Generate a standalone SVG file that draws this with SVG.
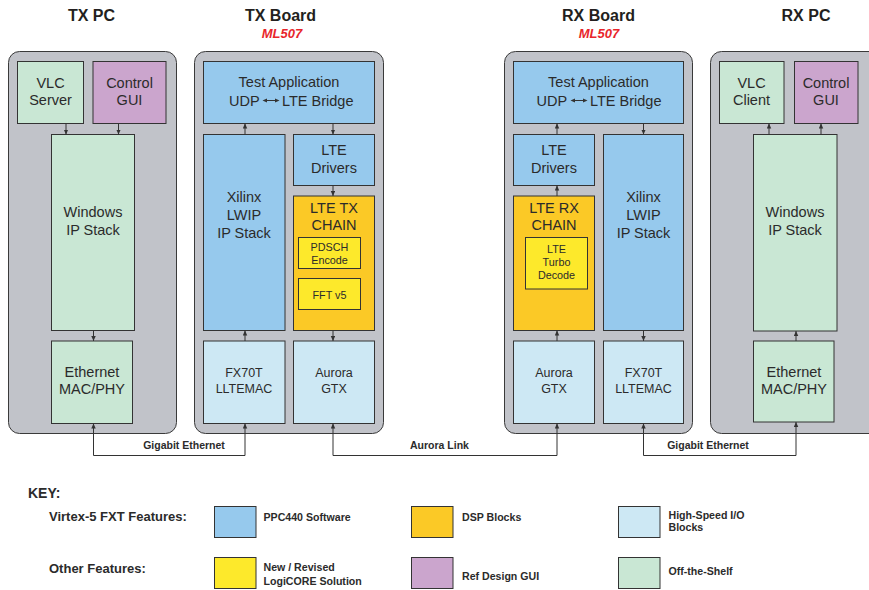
<svg xmlns="http://www.w3.org/2000/svg" width="869" height="590" viewBox="0 0 869 590">
<defs>
<style>
.bg{fill:#ffffff}
.panel{fill:#c1c3c9;stroke:#3a3a3a;stroke-width:1}
.box{stroke:#333333;stroke-width:1}
.blue{fill:#96c9ed}
.orange{fill:#fbc926}
.yellow{fill:#fde92b}
.lblue{fill:#cde8f4}
.green{fill:#c9e7d4}
.purple{fill:#cba5cd}
.t{font-family:"Liberation Sans",Arial,sans-serif;fill:#2b2b2b;text-anchor:middle;font-size:14.5px}
.ts{font-size:12.5px}
.tx{font-size:10.8px}
.title{font-family:"Liberation Sans",Arial,sans-serif;font-weight:bold;font-size:16px;fill:#231f20;text-anchor:middle}
.ml{font-family:"Liberation Sans",Arial,sans-serif;font-weight:bold;font-style:italic;font-size:13px;fill:#e8262b;text-anchor:middle}
.lab{font-family:"Liberation Sans",Arial,sans-serif;font-weight:bold;font-size:10.5px;fill:#2b2b2b;text-anchor:middle}
.key{font-family:"Liberation Sans",Arial,sans-serif;font-weight:bold;fill:#2b2b2b}
.conn{fill:none;stroke:#333333;stroke-width:1}
</style>
<marker id="ah" markerUnits="userSpaceOnUse" markerWidth="6" markerHeight="5" refX="5" refY="2.25" orient="auto-start-reverse">
<path d="M0,0 L5,2.25 L0,4.5 z" fill="#333333"/>
</marker>
</defs>
<rect class="bg" x="0" y="0" width="869" height="590"/>

<!-- Titles -->
<g id="titles">
<text class="title" x="91.5" y="21">TX PC</text>
<text class="title" x="280.5" y="21">TX Board</text>
<text class="ml" x="282" y="38">ML507</text>
<text class="title" x="598.5" y="21">RX Board</text>
<text class="ml" x="599" y="38">ML507</text>
<text class="title" x="806" y="21">RX PC</text>
</g>

<!-- Panels -->
<g id="tx_pc">
<rect class="panel" x="8.5" y="51.5" width="168" height="382" rx="11"/>
</g>
<g id="tx_board">
<rect class="panel" x="194.5" y="51.5" width="189" height="382" rx="11"/>
</g>
<g id="rx_board">
<rect class="panel" x="504.5" y="51.5" width="188" height="382" rx="11"/>
</g>
<g id="rx_pc">
<rect class="panel" x="710.5" y="51.5" width="185" height="382" rx="11"/>
</g>

<!-- TX PC nodes -->
<g id="tx_vlc_server">
<rect class="box green" x="17.5" y="61.5" width="66" height="62"/>
<text class="t" x="50.5" y="87.5">VLC</text>
<text class="t" x="50.5" y="105">Server</text>
</g>
<g id="tx_control_gui">
<rect class="box purple" x="93" y="61.5" width="73" height="62"/>
<text class="t" x="129.5" y="87.5">Control</text>
<text class="t" x="129.5" y="105">GUI</text>
</g>
<g id="tx_windows_ip">
<rect class="box green" x="51.5" y="134.5" width="83" height="196"/>
<text class="t" x="93" y="216.5">Windows</text>
<text class="t" x="93" y="234.5">IP Stack</text>
</g>
<g id="tx_ethernet">
<rect class="box green" x="51.5" y="341" width="81" height="82.5"/>
<text class="t" x="92" y="376.5">Ethernet</text>
<text class="t" x="92" y="394">MAC/PHY</text>
</g>

<!-- TX Board nodes -->
<g id="tx_test_app">
<rect class="box blue" x="203.5" y="61.5" width="171" height="62"/>
<text class="t" x="289" y="87">Test Application</text>
<text class="t" x="229" y="105.5" style="text-anchor:start">UDP</text>
<text class="t" x="282" y="105.5" style="text-anchor:start">LTE Bridge</text>
<path d="M266,100.5 H276" stroke="#333" stroke-width="1"/>
<path d="M262.5,100.5 L267,98.6 L267,102.4 z M279.5,100.5 L275,98.6 L275,102.4 z" fill="#333"/>
</g>
<g id="tx_xilinx_lwip">
<rect class="box blue" x="203.5" y="134.5" width="81.5" height="196"/>
<text class="t" x="244" y="201.5">Xilinx</text>
<text class="t" x="244" y="219.5">LWIP</text>
<text class="t" x="244" y="237.5">IP Stack</text>
</g>
<g id="tx_lte_drivers">
<rect class="box blue" x="293.5" y="134.5" width="81" height="51"/>
<text class="t" x="334" y="154.5">LTE</text>
<text class="t" x="334" y="172.5">Drivers</text>
</g>
<g id="tx_lte_chain">
<rect class="box orange" x="293.5" y="196" width="81" height="134.5"/>
<text class="t" x="334" y="212.5">LTE TX</text>
<text class="t" x="334" y="229.5">CHAIN</text>
</g>
<g id="tx_pdsch">
<rect class="box yellow" x="298.5" y="237.5" width="62" height="31"/>
<text class="t tx" x="329.5" y="251">PDSCH</text>
<text class="t tx" x="329.5" y="263.5">Encode</text>
</g>
<g id="tx_fft">
<rect class="box yellow" x="298.5" y="278.5" width="62" height="31"/>
<text class="t tx" x="329.5" y="298.5">FFT v5</text>
</g>
<g id="tx_fx70t">
<rect class="box lblue" x="203.5" y="341" width="81.5" height="82.5"/>
<text class="t ts" x="244" y="376.5">FX70T</text>
<text class="t ts" x="244" y="393">LLTEMAC</text>
</g>
<g id="tx_aurora">
<rect class="box lblue" x="293.5" y="341" width="81" height="82.5"/>
<text class="t ts" x="334" y="376.5">Aurora</text>
<text class="t ts" x="334" y="393">GTX</text>
</g>

<!-- RX Board nodes -->
<g id="rx_test_app">
<rect class="box blue" x="513.5" y="61.5" width="170" height="62"/>
<text class="t" x="598.5" y="87">Test Application</text>
<text class="t" x="536.5" y="105.5" style="text-anchor:start">UDP</text>
<text class="t" x="590" y="105.5" style="text-anchor:start">LTE Bridge</text>
<path d="M574,100.5 H584" stroke="#333" stroke-width="1"/>
<path d="M570.5,100.5 L575,98.6 L575,102.4 z M587.5,100.5 L583,98.6 L583,102.4 z" fill="#333"/>
</g>
<g id="rx_lte_drivers">
<rect class="box blue" x="513.5" y="134.5" width="81" height="51"/>
<text class="t" x="554" y="154.5">LTE</text>
<text class="t" x="554" y="172.5">Drivers</text>
</g>
<g id="rx_xilinx_lwip">
<rect class="box blue" x="603.5" y="134.5" width="80" height="196"/>
<text class="t" x="643.5" y="201.5">Xilinx</text>
<text class="t" x="643.5" y="219.5">LWIP</text>
<text class="t" x="643.5" y="237.5">IP Stack</text>
</g>
<g id="rx_lte_chain">
<rect class="box orange" x="513.5" y="196" width="81" height="134.5"/>
<text class="t" x="554" y="213">LTE RX</text>
<text class="t" x="554" y="229.5">CHAIN</text>
</g>
<g id="rx_turbo">
<rect class="box yellow" x="525.5" y="237.5" width="62" height="51.5"/>
<text class="t tx" x="556.5" y="252.5">LTE</text>
<text class="t tx" x="556.5" y="265.5">Turbo</text>
<text class="t tx" x="556.5" y="278.5">Decode</text>
</g>
<g id="rx_aurora">
<rect class="box lblue" x="513.5" y="341" width="81" height="82.5"/>
<text class="t ts" x="554" y="376.5">Aurora</text>
<text class="t ts" x="554" y="393">GTX</text>
</g>
<g id="rx_fx70t">
<rect class="box lblue" x="603.5" y="341" width="80" height="82.5"/>
<text class="t ts" x="643.5" y="376.5">FX70T</text>
<text class="t ts" x="643.5" y="393">LLTEMAC</text>
</g>

<!-- RX PC nodes -->
<g id="rx_vlc_client">
<rect class="box green" x="719.5" y="61.5" width="64.5" height="62"/>
<text class="t" x="751.5" y="87.5">VLC</text>
<text class="t" x="751.5" y="105">Client</text>
</g>
<g id="rx_control_gui">
<rect class="box purple" x="794.5" y="61.5" width="63.5" height="62"/>
<text class="t" x="826" y="87.5">Control</text>
<text class="t" x="826" y="105">GUI</text>
</g>
<g id="rx_windows_ip">
<rect class="box green" x="753.5" y="134.5" width="83.5" height="196.5"/>
<text class="t" x="795" y="216.5">Windows</text>
<text class="t" x="795" y="234.5">IP Stack</text>
</g>
<g id="rx_ethernet">
<rect class="box green" x="753.5" y="341" width="80.5" height="81"/>
<text class="t" x="794" y="376.5">Ethernet</text>
<text class="t" x="794" y="394">MAC/PHY</text>
</g>

<!-- Connectors -->
<g id="connectors">
<path class="conn" d="M66,123.5 V134.5" marker-end="url(#ah)"/>
<path class="conn" d="M118.5,123.5 V134.5" marker-end="url(#ah)"/>
<path class="conn" d="M93.5,330.5 V341" marker-end="url(#ah)"/>

<path class="conn" d="M245,134.5 V123.5" marker-end="url(#ah)"/>
<path class="conn" d="M333,123.5 V134.5" marker-end="url(#ah)"/>
<path class="conn" d="M333,185.5 V196" marker-end="url(#ah)"/>
<path class="conn" d="M333,330.5 V341" marker-end="url(#ah)"/>
<path class="conn" d="M245,341 V330.5" marker-end="url(#ah)"/>

<path class="conn" d="M557,341 V330.5" marker-end="url(#ah)"/>
<path class="conn" d="M557,196 V185.5" marker-end="url(#ah)"/>
<path class="conn" d="M557,134.5 V123.5" marker-end="url(#ah)"/>
<path class="conn" d="M643.5,123.5 V134.5" marker-end="url(#ah)"/>
<path class="conn" d="M643.5,330.5 V341" marker-end="url(#ah)"/>

<path class="conn" d="M796,341 V331" marker-end="url(#ah)"/>
<path class="conn" d="M769,134.5 V123.5" marker-end="url(#ah)"/>
<path class="conn" d="M821,134.5 V123.5" marker-end="url(#ah)"/>

<path class="conn" d="M93.5,423.5 V455.5 H245 V423.5" marker-start="url(#ah)" marker-end="url(#ah)"/>
<path class="conn" d="M333,423.5 V455.5 H557 V423.5" marker-start="url(#ah)" marker-end="url(#ah)"/>
<path class="conn" d="M643.5,423.5 V455.5 H796 V422" marker-start="url(#ah)" marker-end="url(#ah)"/>
<text class="lab" x="184" y="449">Gigabit Ethernet</text>
<text class="lab" x="439.5" y="449">Aurora Link</text>
<text class="lab" x="708" y="449">Gigabit Ethernet</text>
</g>

<!-- Key -->
<g id="key">
<text class="key" x="28" y="498" style="font-size:14px">KEY:</text>
<text class="key" x="49" y="520.5" style="font-size:13px">Virtex-5 FXT Features:</text>
<text class="key" x="49" y="573" style="font-size:13px">Other Features:</text>

<rect class="box blue" x="214.5" y="506.5" width="41.5" height="31"/>
<text class="key" x="263.5" y="521" style="font-size:10.6px">PPC440 Software</text>
<rect class="box orange" x="411.5" y="506.5" width="41.5" height="31"/>
<text class="key" x="462" y="521" style="font-size:10.6px">DSP Blocks</text>
<rect class="box lblue" x="618.5" y="506.5" width="41.5" height="31"/>
<text class="key" x="668.5" y="519" style="font-size:10.6px">High-Speed I/O</text>
<text class="key" x="668.5" y="531" style="font-size:10.6px">Blocks</text>

<rect class="box yellow" x="214.5" y="557.5" width="41.5" height="31"/>
<text class="key" x="263.5" y="571" style="font-size:10.6px">New / Revised</text>
<text class="key" x="263.5" y="585" style="font-size:10.6px">LogiCORE Solution</text>
<rect class="box purple" x="411.5" y="557.5" width="41.5" height="31"/>
<text class="key" x="462" y="580" style="font-size:10.6px">Ref Design GUI</text>
<rect class="box green" x="618.5" y="557.5" width="41.5" height="31"/>
<text class="key" x="668.5" y="575" style="font-size:10.6px">Off-the-Shelf</text>
</g>
</svg>
